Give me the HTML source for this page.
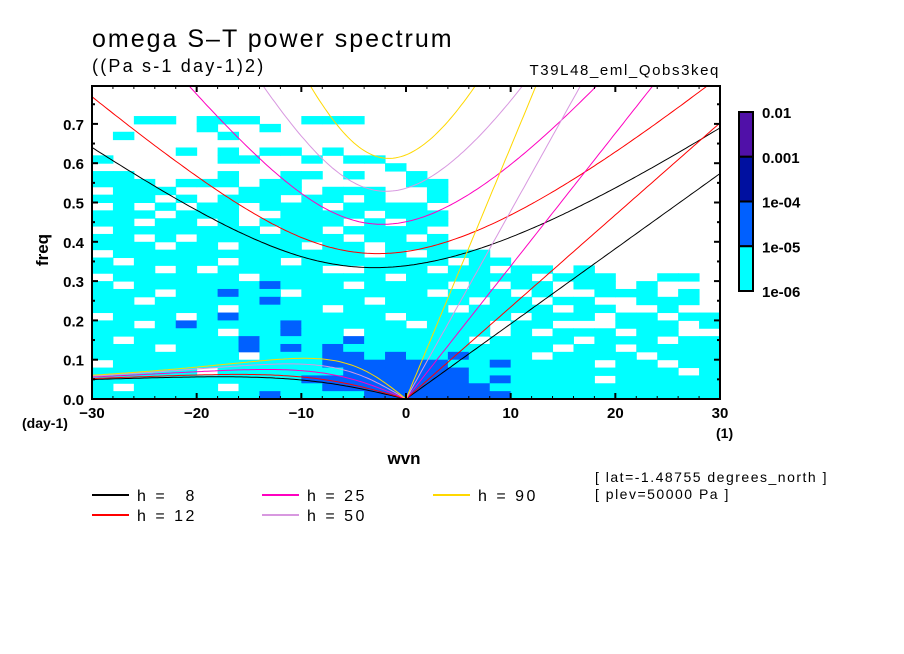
<!DOCTYPE html>
<html><head><meta charset="utf-8"><style>
html,body{margin:0;padding:0;background:#fff;width:904px;height:654px;overflow:hidden}
svg{display:block;font-family:"Liberation Sans",sans-serif}
</style></head><body>
<svg id="chart" width="904" height="654" viewBox="0 0 904 654" xmlns="http://www.w3.org/2000/svg">
<text x="92" y="47" font-size="25" letter-spacing="2" fill="#000">omega S–T power spectrum</text>
<text x="92" y="72" font-size="18" letter-spacing="2.2" fill="#000">((Pa s-1 day-1)2)</text>
<text x="720" y="75" font-size="15" letter-spacing="1.6" text-anchor="end" fill="#000">T39L48_eml_Qobs3keq</text>
<g id="heat"></g>
<g id="curves"></g>
<g id="axes"></g>
<text transform="translate(48,250) rotate(-90)" font-size="17" text-anchor="middle" font-weight="bold">freq</text>
<text x="22" y="428" font-size="14" font-weight="bold">(day-1)</text>
<text x="404" y="464" font-size="17" text-anchor="middle" font-weight="bold">wvn</text>
<text x="716" y="438" font-size="14" font-weight="bold">(1)</text>
<g id="cbar"></g>
<g id="legend"></g>
<text x="595" y="482" font-size="14" letter-spacing="1.5">[ lat=-1.48755 degrees_north ]</text>
<text x="595" y="499" font-size="14" letter-spacing="1.5">[ plev=50000 Pa ]</text>
</svg>
<script>
// ---- data ----
const depths = [8, 12, 25, 50, 90];
const depthColors = ["#000000", "#ff0000", "#ff00c0", "#d898e0", "#ffd800"];
const xTicks = [-30, -20, -10, 0, 10, 20, 30];
const yTicks = [0.0, 0.1, 0.2, 0.3, 0.4, 0.5, 0.6, 0.7];
const levelLabels = ["0.01", "0.001", "1e-04", "1e-05", "1e-06"];
const levelColors = ["#ffffff", "#00ffff", "#0060ff", "#0010a0", "#5010a8"];
// contour grid: rows from freq 0.78 (top) to 0.00, columns wvn -30..28 step 2
const gridRows = [
"000000000000000000000000000000",
"000000000000000000000000000000",
"000000000000000000000000000000",
"000000000000000000000000000000",
"001101110011100000000000000000",
"000001001000000000000000000000",
"010000100000000000000000000000",
"000000000000000000000000000000",
"000010101101000000000000000000",
"100000110010110000000000000000",
"000000000000001000000000000000",
"110000100110100100000000000000",
"111011101100000110000000000000",
"011100011101110010000000000000",
"111010111011010010000000000000",
"010101101110111100000000000000",
"111011100111101110000000000000",
"110110101111010110000000000000",
"011111110110111100000000000000",
"110101111111011010000000000000",
"111011011101101110000000000000",
"011111111111101011100000000000",
"101111011011111110110000000000",
"111010111110011101101101000000",
"011111101111110111111011100110",
"101111112111011110101101101000",
"111011211011111101110100111010",
"110111112111101111011011001110",
"111111011110111110111101100100",
"011101211111110111110111011011",
"110121111211111011101100011101",
"111111011211011111101011101100",
"101111121111211111011110111011",
"111011121212111111111101101111",
"111111101112212112111011110111",
"011111111112222221121111011011",
"111110111111222222111111111101",
"111111111122222222121111011111",
"101111011112222222211111111111",
"111111112111122222221111111111"
];
const gridWvnStep = 2, gridFreqStep = 0.02;

// ---- scales ----
const X0 = 92, X1 = 720, Y0 = 399, YTOP = 86;
const xMin = -30, xMax = 30;
const sx = v => X0 + (v - xMin) / (xMax - xMin) * (X1 - X0);
const sy = v => Y0 - v * 393;
const NS = "http://www.w3.org/2000/svg";
function mk(tag, attrs, parent) {
  const e = document.createElementNS(NS, tag);
  for (const k in attrs) e.setAttribute(k, attrs[k]);
  parent.appendChild(e); return e;
}
const heat = document.getElementById('heat');
const curves = document.getElementById('curves');
const axes = document.getElementById('axes');
const cbar = document.getElementById('cbar');
const legend = document.getElementById('legend');

const defs = mk('defs', {}, document.getElementById('chart'));
const cp = mk('clipPath', {id: 'plotclip'}, defs);
mk('rect', {x: X0, y: YTOP, width: X1 - X0, height: Y0 - YTOP}, cp);
heat.setAttribute('clip-path', 'url(#plotclip)');
curves.setAttribute('clip-path', 'url(#plotclip)');

// heatmap
const nR = gridRows.length;
gridRows.forEach((row, r) => {
  const f0 = (nR - 1 - r) * gridFreqStep;
  for (let c = 0; c < row.length; c++) {
    const lvl = +row[c];
    if (lvl === 0) continue;
    const w0 = xMin + c * gridWvnStep;
    const cell = mk('rect', {x: sx(w0), y: sy(f0 + gridFreqStep), width: sx(w0 + gridWvnStep) - sx(w0) + 0.5, height: sy(f0) - sy(f0 + gridFreqStep) + 0.5, fill: levelColors[lvl]}, heat);
    
    
  }
});

// dispersion curves
const beta = 2 * 7.292e-5 / 6.371e6, a = 6.371e6, toCpd = 86400 / (2 * Math.PI);
function igFreq(k, c) {
  let w = Math.sqrt(c * c * k * k + 3 * beta * c) + 1e-7;
  for (let i = 0; i < 40; i++) {
    const f = w * w * w - (c * c * k * k + 3 * beta * c) * w - beta * c * c * k;
    const d = 3 * w * w - (c * c * k * k + 3 * beta * c);
    w -= f / d;
  }
  return w;
}
depths.forEach((h, i) => {
  const c = Math.sqrt(9.81 * h);
  const kel = [], er = [], ig = [];
  for (let s = 0; s <= 30.001; s += 0.25) { const k = s / a; kel.push([s, c * k * toCpd]); }
  for (let s = -30; s <= 0.001; s += 0.25) { const k = s / a; er.push([s, -beta * k / (k * k + 3 * beta / c) * toCpd]); }
  for (let s = -30; s <= 30.001; s += 0.25) { const k = s / a; ig.push([s, igFreq(k, c) * toCpd]); }
  [["kelvin", kel], ["rossby", er], ["gravity", ig]].forEach(([nm, pts]) => {
    const p = mk('polyline', {points: pts.map(q => sx(q[0]).toFixed(1) + ',' + sy(Math.min(q[1], 1.2)).toFixed(1)).join(' '), fill: 'none', stroke: depthColors[i], 'stroke-width': 1}, curves);
    
    
  });
});

// axes frame & ticks
mk('rect', {x: X0, y: YTOP, width: X1 - X0, height: Y0 - YTOP, fill: 'none', stroke: '#000', 'stroke-width': 2}, axes);
for (let w = -30; w <= 30; w += 2) {
  const maj = w % 10 === 0, L = maj ? 6 : 3;
  mk('line', {x1: sx(w), x2: sx(w), y1: Y0, y2: Y0 - L, stroke: '#000', 'stroke-width': maj ? 2 : 1}, axes);
  mk('line', {x1: sx(w), x2: sx(w), y1: YTOP, y2: YTOP + L, stroke: '#000', 'stroke-width': maj ? 2 : 1}, axes);
}
for (let f = 0; f <= 0.79; f += 0.05) {
  const maj = Math.abs(f * 10 - Math.round(f * 10)) < 1e-6, L = maj ? 6 : 3;
  mk('line', {x1: X0, x2: X0 + L, y1: sy(f), y2: sy(f), stroke: '#000', 'stroke-width': 2}, axes);
  mk('line', {x1: X1, x2: X1 - L, y1: sy(f), y2: sy(f), stroke: '#000', 'stroke-width': 2}, axes);
}
xTicks.forEach(t => {
  const e = mk('text', {x: sx(t), y: 418, 'font-size': 15, 'font-weight': 'bold', 'text-anchor': 'middle'}, axes);
  e.textContent = t < 0 ? '\u2212' + (-t) : String(t);
  
  
});
yTicks.forEach(t => {
  const e = mk('text', {x: 84, y: sy(t) + 6, 'font-size': 15, 'font-weight': 'bold', 'text-anchor': 'end'}, axes);
  e.textContent = t.toFixed(1);
  
  
});

// colorbar
const cbTop = 112, cbBot = 291, nSeg = 4, segH = (cbBot - cbTop) / nSeg;
for (let i = 0; i < nSeg; i++) {
  const r = mk('rect', {x: 739, y: cbTop + i * segH, width: 14, height: segH, fill: levelColors[4 - i], stroke: '#000', 'stroke-width': 2}, cbar);
  
  
}
levelLabels.forEach((lab, i) => {
  const e = mk('text', {x: 762, y: cbTop + i * segH + 6, 'font-size': 15, 'font-weight': 'bold'}, cbar);
  e.textContent = lab;
  
  
});

// legend
const legPos = [[92, 495], [92, 515], [262, 495], [262, 515], [433, 495]];
depths.forEach((h, i) => {
  const [lx, ly] = legPos[i];
  const g = mk('g', {}, legend);
  
  
  mk('line', {x1: lx, x2: lx + 37, y1: ly, y2: ly, stroke: depthColors[i], 'stroke-width': 2}, g);
  const t = mk('text', {x: lx + 45, y: ly + 6, 'font-size': 16, 'letter-spacing': 2.5}, g);
  t.textContent = 'h = ' + (h < 10 ? '\u2007' + h : h);
});
</script>
</body></html>
